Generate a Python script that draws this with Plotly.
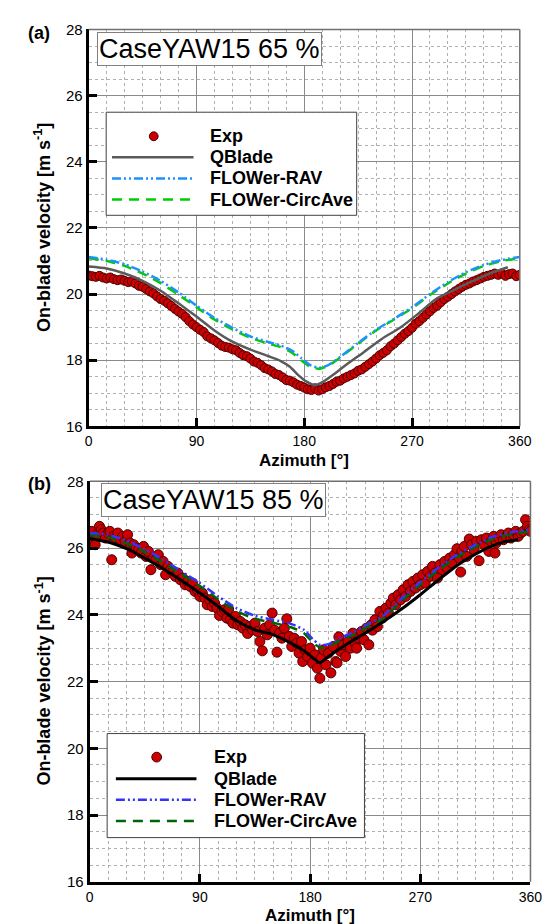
import plotly.graph_objects as go

W, H = 550, 924

# ---------------- data: panel (a) CaseYAW15 65 % ----------------
exp65_az = list(range(0, 361, 3))
exp65 = [20.56, 20.54, 20.52, 20.55, 20.50, 20.47, 20.50, 20.45, 20.42, 20.44,
         20.40, 20.36, 20.38, 20.32, 20.25, 20.22, 20.15, 20.08, 20.02, 19.93,
         19.85, 19.80, 19.72, 19.64, 19.55, 19.47, 19.40, 19.30, 19.18, 19.08,
         19.00, 18.92, 18.85, 18.72, 18.66, 18.60, 18.52, 18.44, 18.40, 18.38,
         18.33, 18.30, 18.22, 18.15, 18.12, 18.05, 17.96, 17.92, 17.85, 17.76,
         17.72, 17.66, 17.58, 17.55, 17.48, 17.40, 17.38, 17.33, 17.26, 17.22,
         17.17, 17.12, 17.10, 17.15, 17.08, 17.12, 17.18, 17.22, 17.28, 17.35,
         17.38, 17.45, 17.50, 17.55, 17.60, 17.68, 17.72, 17.80, 17.88, 17.96,
         18.05, 18.15, 18.22, 18.30, 18.42, 18.50, 18.60, 18.70, 18.80, 18.88,
         18.98, 19.10, 19.18, 19.28, 19.38, 19.48, 19.58, 19.65, 19.75, 19.85,
         19.92, 20.00, 20.08, 20.15, 20.22, 20.28, 20.32, 20.38, 20.42, 20.47,
         20.52, 20.55, 20.58, 20.62, 20.58, 20.62, 20.55, 20.60, 20.62, 20.54,
         20.58]

qb65_az = [0, 15, 30, 45, 60, 75, 90, 105, 120, 135, 150, 160, 168, 175, 182,
           189, 196, 205, 215, 230, 245, 260, 275, 290, 305, 320, 335, 350]
qb65 = [20.83, 20.77, 20.62, 20.40, 20.10, 19.72, 19.32, 18.90, 18.56, 18.32,
        18.12, 17.98, 17.80, 17.55, 17.35, 17.24, 17.35, 17.58, 17.86, 18.25,
        18.65, 18.98, 19.40, 19.85, 20.12, 20.38, 20.62, 20.81]

fl65_az = [0, 15, 30, 45, 60, 75, 90, 105, 120, 135, 150, 160, 170, 178, 185,
           192, 200, 210, 225, 240, 255, 270, 285, 300, 315, 330, 345, 360]
rav65 = [21.12, 21.04, 20.90, 20.68, 20.40, 20.05, 19.65, 19.28, 18.98, 18.72,
         18.55, 18.45, 18.28, 18.05, 17.85, 17.77, 17.85, 18.10, 18.52, 18.92,
         19.25, 19.60, 20.00, 20.36, 20.66, 20.88, 21.03, 21.12]
circ65 = [21.08, 21.00, 20.85, 20.62, 20.33, 19.98, 19.60, 19.23, 18.93, 18.68,
          18.50, 18.40, 18.22, 17.98, 17.80, 17.74, 17.83, 18.08, 18.50, 18.90,
          19.23, 19.57, 19.97, 20.32, 20.62, 20.85, 21.00, 21.08]

# ---------------- data: panel (b) CaseYAW15 85 % ----------------
exp85_az = [0, 1.5, 3, 4.5, 6, 8, 9.5, 11, 13, 15, 16.5, 18, 19.5, 21, 23, 25, 27,
            29, 31, 33, 34.5, 36, 38, 40, 42, 44, 46, 48, 50, 52, 54, 56, 58, 60,
            62, 64, 66, 68, 70, 72, 74, 76, 78, 80, 82, 84, 86, 88, 90, 92, 94,
            96, 98, 100, 102, 104, 106, 108, 110, 112, 113.5, 115, 117, 119, 121,
            123, 125, 127, 129, 131, 133, 135, 137, 139, 141, 143, 145, 147, 149,
            151, 153, 155, 157, 159, 161, 163, 165, 167, 169, 171, 173, 174, 176,
            178, 180, 182, 184, 186, 188, 189, 191, 193, 195, 197, 199, 201, 202,
            203.5, 205, 207, 209, 211, 213, 215, 217, 218, 220, 222, 224, 226,
            228, 230, 231, 233, 235, 237, 239, 240, 242, 244, 246, 248, 250, 252,
            254, 256, 258, 260, 262, 264, 266, 268, 270, 272, 274, 276, 278, 280,
            282, 284, 286, 288, 290, 292, 294, 296, 298, 300, 302, 303, 304, 306,
            308, 310, 312, 314, 316, 318, 320, 322, 324, 326, 328, 330, 331, 332,
            334, 336, 338, 340, 342, 344, 346, 348, 350, 352, 354, 356, 357.5, 359,
            360]
exp85 = [26.35, 26.50, 26.20, 26.10, 26.40, 26.65, 26.55, 26.45, 26.30, 26.45,
         26.50, 25.65, 26.35, 26.30, 26.45, 26.25, 26.35, 26.20, 26.40, 26.15,
         25.85, 26.10, 26.00, 25.95, 25.85, 26.05, 25.75, 25.90, 25.35, 25.70,
         25.65, 25.80, 25.50, 25.60, 25.20, 25.45, 25.35, 25.30, 25.15, 25.25,
         25.05, 25.10, 24.90, 25.00, 24.85, 24.95, 24.70, 24.75, 24.55, 24.65,
         24.50, 24.30, 24.45, 24.25, 24.35, 24.20, 23.98, 24.10, 24.15, 23.90,
         24.17, 23.85, 23.75, 23.95, 23.70, 23.80, 23.60, 23.70, 23.44, 23.65,
         23.55, 23.75, 23.50, 23.20, 22.92, 23.60, 23.40, 23.70, 24.05, 23.54,
         22.88, 23.45, 23.30, 23.60, 23.88, 23.35, 23.05, 23.30, 23.15, 22.85,
         23.20, 22.60, 22.95, 22.75, 23.00, 22.55, 22.80, 22.40, 22.10, 22.70,
         22.95, 22.50, 22.85, 22.26, 23.05, 22.60, 22.56, 23.34, 22.90, 23.10,
         22.75, 23.20, 23.00, 23.45, 23.15, 23.00, 23.30, 23.50, 23.25, 23.60,
         23.10, 23.70, 23.54, 23.85, 23.65, 24.10, 23.90, 23.98, 24.20, 24.05,
         24.35, 24.50, 24.30, 24.60, 24.45, 24.75, 24.55, 24.90, 24.70, 25.00,
         24.80, 25.10, 24.90, 25.20, 24.95, 25.30, 25.15, 25.45, 25.25, 25.10,
         25.50, 25.35, 25.60, 25.40, 25.70, 25.55, 25.80, 25.98, 25.70, 25.28,
         25.90, 26.05, 25.75, 26.27, 26.10, 25.95, 26.20, 25.62, 26.25, 26.10,
         26.30, 25.90, 26.20, 26.35, 25.85, 26.15, 26.30, 26.40, 26.25, 26.35,
         26.45, 26.30, 26.40, 26.50, 26.35, 26.45, 26.50, 26.85, 26.65, 26.55,
         26.50]

qb85_az = [0, 15, 30, 45, 60, 75, 90, 105, 120, 135, 150, 167, 175, 182, 188,
           195, 203, 212, 225, 240, 255, 270, 285, 300, 315, 330, 340, 350]
qb85 = [26.28, 26.18, 25.98, 25.70, 25.38, 25.03, 24.65, 24.25, 23.82, 23.55,
        23.40, 23.10, 22.92, 22.72, 22.56, 22.75, 22.95, 23.17, 23.45, 23.80,
        24.18, 24.60, 25.05, 25.48, 25.82, 26.08, 26.20, 26.25]

fl85_az = [0, 15, 30, 45, 60, 75, 90, 105, 120, 135, 150, 165, 175, 182, 188,
           195, 203, 212, 225, 240, 255, 270, 285, 300, 315, 330, 345, 360]
rav85 = [26.45, 26.40, 26.22, 25.97, 25.65, 25.30, 24.95, 24.55, 24.20, 23.97,
         23.85, 23.72, 23.55, 23.28, 23.10, 23.12, 23.28, 23.42, 23.68, 23.98,
         24.50, 24.98, 25.42, 25.80, 26.10, 26.35, 26.48, 26.55]
circ85 = [26.38, 26.32, 26.14, 25.88, 25.56, 25.21, 24.86, 24.46, 24.11, 23.88,
          23.76, 23.62, 23.45, 23.18, 23.02, 23.04, 23.20, 23.34, 23.60, 23.90,
          24.42, 24.90, 25.34, 25.72, 26.03, 26.28, 26.42, 26.50]

x_ticks = [0, 90, 180, 270, 360]
y_ticks = [16, 18, 20, 22, 24, 26, 28]

# ---------------- helpers ----------------
def px(x):
    return x / W

def py(y):
    return 1 - y / H

FONT = "Liberation Sans, Arial, sans-serif"
RED = "#CC0000"
RED_EDGE = "#4A0000"
DASHDOTDOT = "9px,3px,2px,3px,2px,3px"
DASHED = "10px,7px"

panels = [
    dict(ax="x", ay="y", dom_x=[px(79), px(523)], dom_y=[py(417), py(12.7)],
         exp_az=exp65_az, exp=exp65, exp_size=9,
         qb_az=qb65_az, qb=qb65, qb_col="#5a5a5a", qb_w=2.5,
         fl_az=fl65_az, rav=rav65, circ=circ65,
         rav_col="#1E90FF", circ_col="#00CC00",
         label="(a)", label_y=16, case="CaseYAW15 65 %", case_x=88, case_y=33,
         leg=dict(x0=97, x1=355, y0=97, ys=[121.5, 143, 164.5, 186], y1=202,
                  lx0=103, lx1=187, mx=146, tx=202),
         title_y=452),
    dict(ax="x2", ay="y2", dom_x=[px(80), px(534)], dom_y=[py(881), py(473)],
         exp_az=exp85_az, exp=exp85, exp_size=10,
         qb_az=qb85_az, qb=qb85, qb_col="#000000", qb_w=3,
         fl_az=fl85_az, rav=rav85, circ=circ85,
         rav_col="#3333FF", circ_col="#006400",
         label="(b)", label_y=476, case="CaseYAW15 85 %", case_x=92, case_y=492,
         leg=dict(x0=98, x1=363, y0=730, ys=[754, 776, 797.5, 819], y1=836,
                  lx0=107, lx1=190, mx=149, tx=206),
         title_y=915),
]

fig = go.Figure()
shapes = []
annotations = []

for p in panels:
    # experiment first, then model lines over it
    fig.add_trace(go.Scatter(
        x=p["exp_az"], y=p["exp"], mode="markers", xaxis=p["ax"], yaxis=p["ay"],
        marker=dict(size=p["exp_size"], color=RED, line=dict(color=RED_EDGE, width=1)),
        showlegend=False, name="Exp"))
    fig.add_trace(go.Scatter(
        x=p["qb_az"], y=p["qb"], mode="lines", xaxis=p["ax"], yaxis=p["ay"],
        line=dict(color=p["qb_col"], width=p["qb_w"], shape="spline", smoothing=0.6),
        showlegend=False, name="QBlade"))
    fig.add_trace(go.Scatter(
        x=p["fl_az"], y=p["circ"], mode="lines", xaxis=p["ax"], yaxis=p["ay"],
        line=dict(color=p["circ_col"], width=2.5, dash=DASHED, shape="spline", smoothing=0.6),
        showlegend=False, name="FLOWer-CircAve"))
    fig.add_trace(go.Scatter(
        x=p["fl_az"], y=p["rav"], mode="lines", xaxis=p["ax"], yaxis=p["ay"],
        line=dict(color=p["rav_col"], width=2.5, dash=DASHDOTDOT, shape="spline", smoothing=0.6),
        showlegend=False, name="FLOWer-RAV"))

    xd = p["ax"] + " domain"
    yd = p["ay"] + " domain"
    # thin top / right frame
    shapes.append(dict(type="line", xref=xd, yref=yd, x0=0, x1=1, y0=1, y1=1,
                       line=dict(color="#707070", width=1.5), layer="above"))
    shapes.append(dict(type="line", xref=xd, yref=yd, x0=1, x1=1, y0=0, y1=1,
                       line=dict(color="#707070", width=1.5), layer="above"))

    # panel label
    annotations.append(dict(text="<b>" + p["label"] + "</b>", xref="paper", yref="paper",
                            x=px(14), y=py(p["label_y"]), xanchor="left", yanchor="middle",
                            showarrow=False, font=dict(size=18, family=FONT, color="black")))
    # case box
    annotations.append(dict(text=p["case"], xref="paper", yref="paper",
                            x=px(p["case_x"]), y=py(p["case_y"]), xanchor="left", yanchor="middle",
                            showarrow=False, bgcolor="white", bordercolor="#808080",
                            borderwidth=1, borderpad=1,
                            font=dict(size=27, family=FONT, color="black")))
    # axis titles
    cx = (p["dom_x"][0] + p["dom_x"][1]) / 2
    cy = (p["dom_y"][0] + p["dom_y"][1]) / 2
    annotations.append(dict(text="<b>Azimuth [°]</b>", xref="paper", yref="paper",
                            x=cx, y=py(p["title_y"]), xanchor="center", yanchor="middle",
                            showarrow=False, font=dict(size=17, family=FONT, color="black")))
    annotations.append(dict(text="<b>On-blade velocity [m s<sup>-1</sup>]</b>", xref="paper",
                            yref="paper", x=px(32), y=cy, xanchor="center", yanchor="middle",
                            textangle=-90, showarrow=False,
                            font=dict(size=18, family=FONT, color="black")))

    # custom legend
    L = p["leg"]
    shapes.append(dict(type="rect", xref="paper", yref="paper",
                       x0=px(L["x0"]), x1=px(L["x1"]), y0=py(L["y1"]), y1=py(L["y0"]),
                       fillcolor="white", line=dict(color="#404040", width=1), layer="above"))
    r = p["exp_size"] / 2
    shapes.append(dict(type="circle", xref="paper", yref="paper",
                       x0=px(L["mx"] - r), x1=px(L["mx"] + r),
                       y0=py(L["ys"][0] + r), y1=py(L["ys"][0] - r),
                       fillcolor=RED, line=dict(color=RED_EDGE, width=1), layer="above"))
    styles = [(p["qb_col"], p["qb_w"], "solid"),
              (p["rav_col"], 2.5, DASHDOTDOT),
              (p["circ_col"], 2.5, DASHED)]
    for (col, wdt, dsh), yy in zip(styles, L["ys"][1:]):
        shapes.append(dict(type="line", xref="paper", yref="paper",
                           x0=px(L["lx0"]), x1=px(L["lx1"]), y0=py(yy), y1=py(yy),
                           line=dict(color=col, width=wdt, dash=dsh), layer="above"))
    for name, yy in zip(["Exp", "QBlade", "FLOWer-RAV", "FLOWer-CircAve"], L["ys"]):
        annotations.append(dict(text="<b>" + name + "</b>", xref="paper", yref="paper",
                                x=px(L["tx"]), y=py(yy), xanchor="left", yanchor="middle",
                                showarrow=False,
                                font=dict(size=18, family=FONT, color="black")))

def xaxis_cfg(dom, anchor):
    return dict(domain=dom, anchor=anchor, range=[0, 360], tickvals=x_ticks,
                ticktext=[str(v) for v in x_ticks],
                showgrid=True, gridcolor="#8a8a8a", gridwidth=1,
                minor=dict(dtick=15, tick0=0, showgrid=True, gridcolor="#b0b0b0",
                           griddash="dot", gridwidth=1),
                showline=True, linecolor="black", linewidth=3,
                ticks="inside", ticklen=8, tickwidth=3, tickcolor="black",
                tickfont=dict(size=14, family=FONT, color="black"),
                zeroline=False, fixedrange=True)

def yaxis_cfg(dom, anchor):
    return dict(domain=dom, anchor=anchor, range=[16, 28], tickvals=y_ticks,
                ticktext=[str(v) for v in y_ticks],
                showgrid=True, gridcolor="#8a8a8a", gridwidth=1,
                minor=dict(dtick=0.5, tick0=16, showgrid=True, gridcolor="#b0b0b0",
                           griddash="dot", gridwidth=1),
                showline=True, linecolor="black", linewidth=3,
                ticks="inside", ticklen=8, tickwidth=3, tickcolor="black",
                tickfont=dict(size=15, family=FONT, color="black"),
                zeroline=False, fixedrange=True)

fig.update_layout(
    width=W, height=H, margin=dict(l=0, r=0, t=0, b=0),
    paper_bgcolor="white", plot_bgcolor="white",
    font=dict(family=FONT, color="black"),
    showlegend=False,
    xaxis=xaxis_cfg(panels[0]["dom_x"], "y"),
    yaxis=yaxis_cfg(panels[0]["dom_y"], "x"),
    xaxis2=xaxis_cfg(panels[1]["dom_x"], "y2"),
    yaxis2=yaxis_cfg(panels[1]["dom_y"], "x2"),
    shapes=shapes, annotations=annotations,
)

fig.write_html("out.html")
